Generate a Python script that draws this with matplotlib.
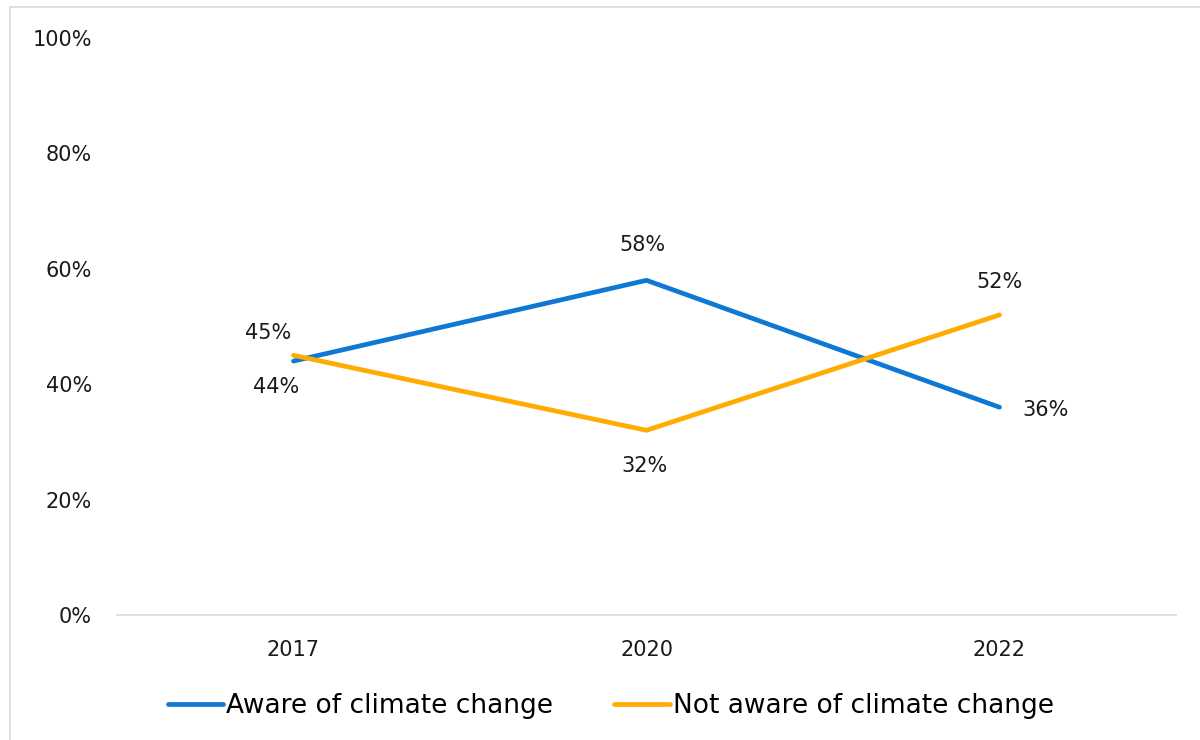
import matplotlib
matplotlib.use("Agg")
import matplotlib.pyplot as plt
from matplotlib.patches import Rectangle
from matplotlib.ticker import FuncFormatter

years = ["2017", "2020", "2022"]
aware = [44, 58, 36]
not_aware = [45, 32, 52]

# label offsets in pixels, one per point
aware_offsets = [(-17, -26), (-4, 35), (46, -3)]
not_aware_offsets = [(-25, 22), (-2, -36), (0, 33)]

blue = "#0F78D4"
orange = "#FFAB00"

plt.rcParams["font.family"] = ["DejaVu Sans"]

fig = plt.figure(figsize=(12, 7.4), dpi=100)
ax = fig.add_axes([0.0975, 0.169, 0.8825, 0.7797])

x = list(range(len(years)))
ax.plot(x, aware, color=blue, lw=3.4, solid_capstyle="round", label="Aware of climate change")
ax.plot(x, not_aware, color=orange, lw=3.4, solid_capstyle="round", label="Not aware of climate change")

for vals, offs in [(aware, aware_offsets), (not_aware, not_aware_offsets)]:
    for i, (v, o) in enumerate(zip(vals, offs)):
        ax.annotate(f"{v}%", (i, v), xytext=o, textcoords="offset pixels",
                    ha="center", va="center", fontsize=15, color="#1a1a1a")

ax.set_xlim(-0.5, 2.5)
ax.set_ylim(0, 100)
ax.set_xticks(x)
ax.set_xticklabels(years)
ax.set_yticks(range(0, 101, 20))
ax.yaxis.set_major_formatter(FuncFormatter(lambda v, p: f"{int(v)}%"))
ax.tick_params(axis="both", length=0, labelsize=15, labelcolor="#1a1a1a")
ax.tick_params(axis="y", pad=18)
ax.tick_params(axis="x", pad=18)
for s in ["top", "right", "left"]:
    ax.spines[s].set_visible(False)
ax.spines["bottom"].set_color("#d9d9d9")
ax.spines["bottom"].set_linewidth(1.2)

fig.legend(loc="center", bbox_to_anchor=(0.509, 0.046), ncol=2, frameon=False,
           fontsize=19, handlelength=2.1, handletextpad=0.12, columnspacing=2.3)

# outer frame
fig.patches.append(Rectangle((10 / 1200, -0.05), 1.2, 1 - 7 / 740 + 0.05,
                             transform=fig.transFigure, fill=False,
                             edgecolor="#d9d9d9", lw=1.2))

fig.savefig("out.png", dpi=100)
